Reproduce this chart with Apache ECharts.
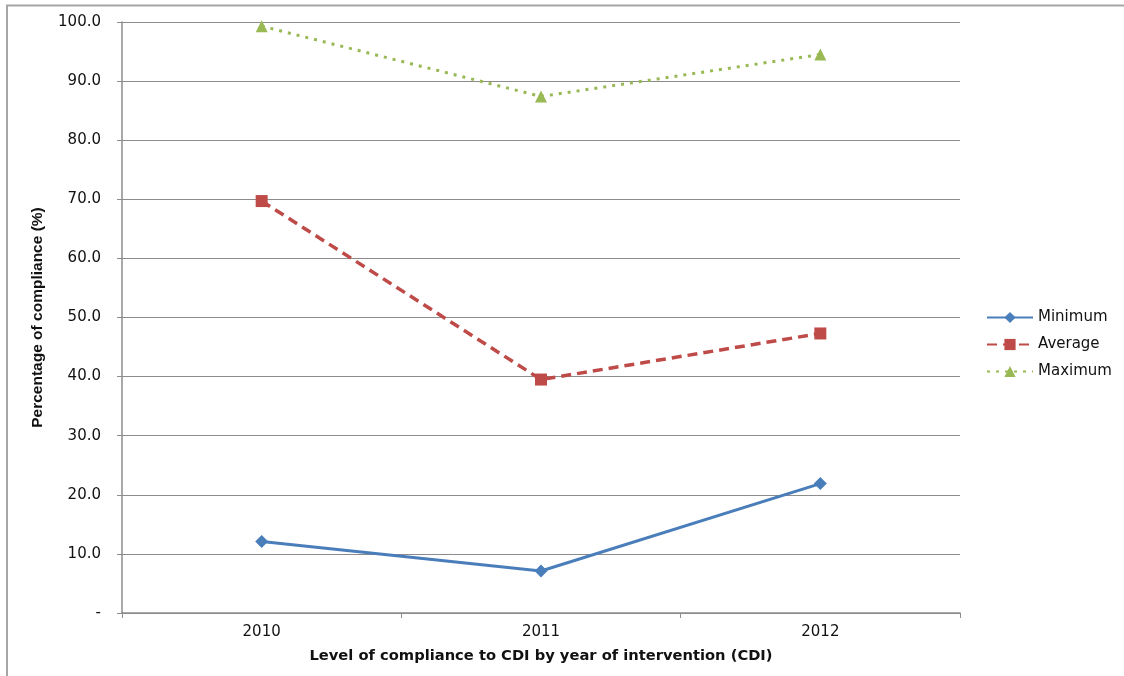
<!DOCTYPE html>
<html>
<head>
<meta charset="utf-8">
<script src="https://cdn.jsdelivr.net/npm/echarts@6/dist/echarts.min.js"></script>
<style>
  html, body { margin: 0; padding: 0; background: #fff; }
  #chart { width: 1124px; height: 676px; }
</style>
</head>
<body>
<div id="chart"></div>
<script>
// Compliance with CDI by year of intervention
const years = ['2010', '2011', '2012'];
const minimum = [12.1, 7.1, 21.9];
const average = [69.7, 39.5, 47.3];
const maximum = [99.3, 87.4, 94.5];

const FONT = '"DejaVu Sans", sans-serif';
const FONT_NARROW = '"Liberation Sans", Arial, sans-serif';
const chart = echarts.init(document.getElementById('chart'), null, { renderer: 'canvas' });

function lineSeries(name, data, color, symbol, size, dash, width) {
  return {
    name: name,
    type: 'line',
    data: data,
    symbol: symbol,
    symbolSize: size,
    showSymbol: true,
    itemStyle: { color: color },
    lineStyle: { color: color, width: width, type: dash },
    emphasis: { disabled: true },
    z: 3
  };
}

chart.setOption({
  animation: false,
  backgroundColor: '#fff',
  graphic: [{
    type: 'rect',
    shape: { x: 7, y: 5.5, width: 1200, height: 800 },
    style: { fill: 'none', stroke: '#a6a6a6', lineWidth: 2 },
    silent: true
  }],
  grid: { left: 122, right: 164, top: 22, bottom: 63 },
  legend: {
    orient: 'vertical',
    left: 981,
    top: 305,
    itemWidth: 46,
    itemHeight: 14,
    itemGap: 12,
    textStyle: { fontFamily: FONT, fontSize: 15, color: '#111' },
    data: ['Minimum', 'Average', 'Maximum']
  },
  xAxis: {
    type: 'category',
    data: years,
    boundaryGap: true,
    name: 'Level of compliance to CDI by year of intervention (CDI)',
    nameLocation: 'middle',
    nameGap: 36,
    nameTextStyle: { fontFamily: FONT, fontSize: 14.7, fontWeight: 'bold', color: '#111' },
    axisLine: { lineStyle: { color: '#8c8c8c', width: 1.5 } },
    axisTick: { show: true, length: 5, lineStyle: { color: '#8c8c8c' } },
    axisLabel: { fontFamily: FONT, fontSize: 15, color: '#111', margin: 12 },
    splitLine: { show: false }
  },
  yAxis: {
    type: 'value',
    min: 0,
    max: 100,
    interval: 10,
    name: 'Percentage of compliance (%)',
    nameLocation: 'middle',
    nameGap: 76,
    nameTextStyle: { fontFamily: FONT_NARROW, fontSize: 15.5, fontWeight: 'bold', color: '#111' },
    axisLine: { show: true, lineStyle: { color: '#8c8c8c', width: 1.5 } },
    axisTick: { show: true, length: 5, lineStyle: { color: '#8c8c8c' } },
    axisLabel: {
      fontFamily: FONT, fontSize: 15, color: '#111', margin: 21,
      formatter: v => v === 0 ? '-' : v.toFixed(1)
    },
    splitLine: { show: true, lineStyle: { color: '#8c8c8c', width: 1 } }
  },
  series: [
    lineSeries('Minimum', minimum, '#4a7ebb', 'diamond', 13, 'solid', 3),
    lineSeries('Average', average, '#be4b48', 'rect', 12, [10, 6], 3.5),
    lineSeries('Maximum', maximum, '#98b954', 'triangle', 12, [3, 6], 3)
  ]
});
</script>
</body>
</html>
